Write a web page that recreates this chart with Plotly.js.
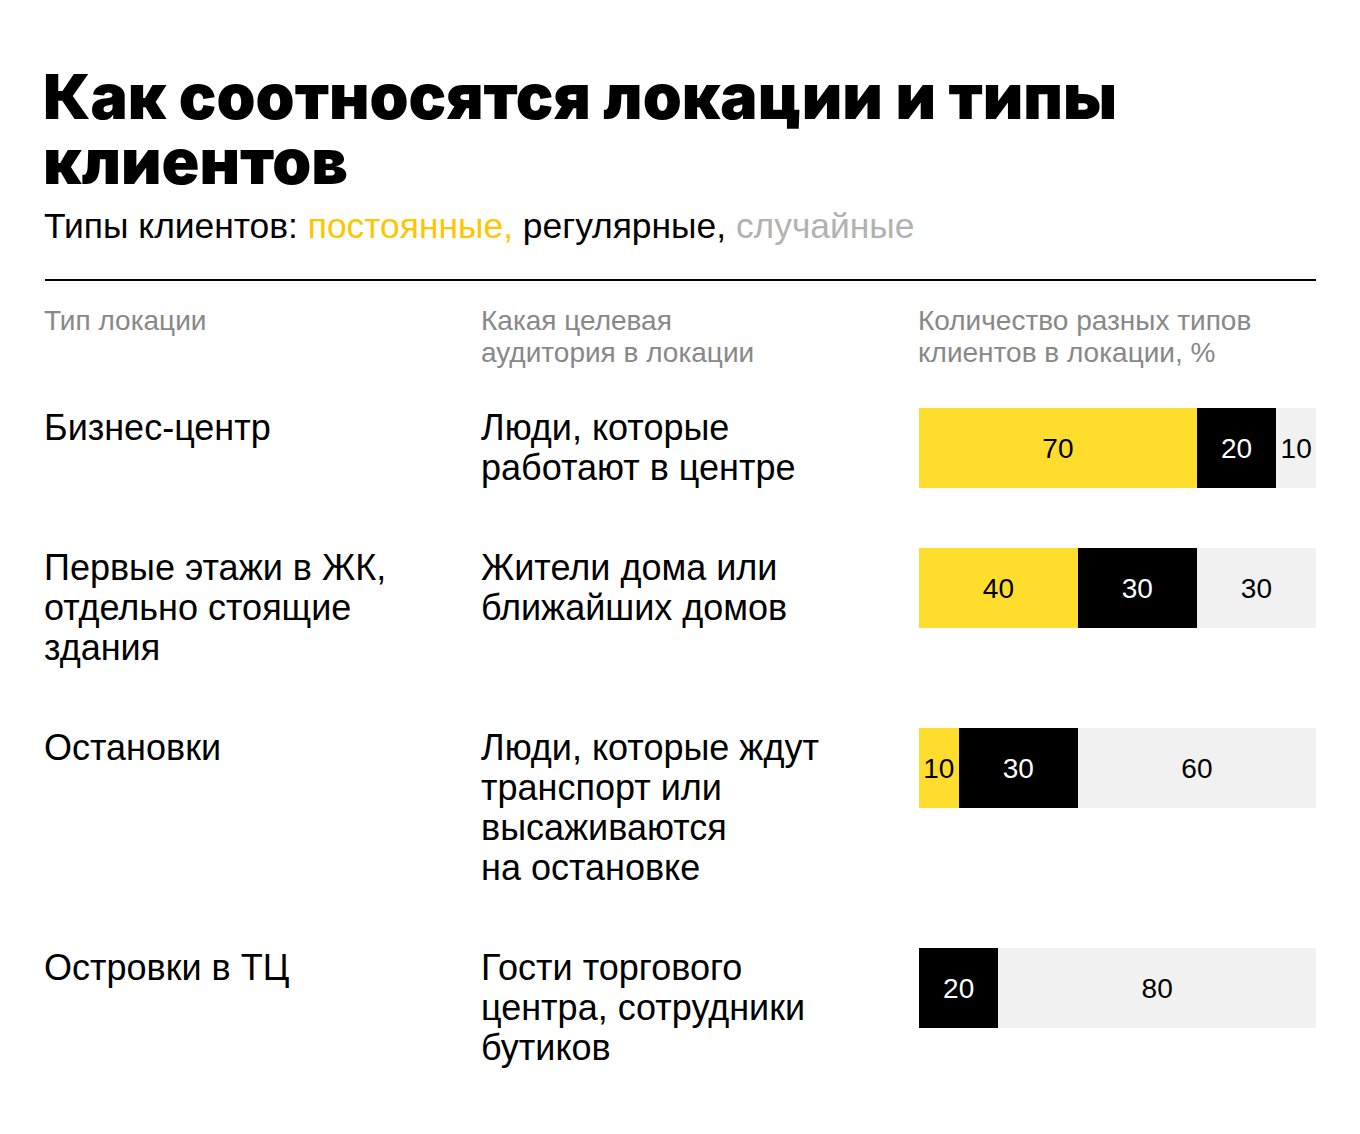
<!DOCTYPE html>
<html>
<head>
<meta charset="utf-8">
<script src="https://cdn.plot.ly/plotly-3.0.1.min.js"></script>
<style>html,body{margin:0;padding:0;background:#fff;}#chart{width:1360px;height:1134px;}</style>
</head>
<body>
<div id="chart"></div>
<script>
// ---- data ----
const titleLines = ["Как соотносятся локации и типы", "клиентов"];
const subtitleLead = "Типы клиентов: ";
const seriesNames = ["постоянные", "регулярные", "случайные"];
const headers = ["Тип локации", "Какая целевая<br>аудитория в локации", "Количество разных типов<br>клиентов в локации, %"];
const locations = [
  ["Бизнес-центр"],
  ["Первые этажи в ЖК,", "отдельно стоящие", "здания"],
  ["Остановки"],
  ["Островки в ТЦ"]
];
const audiences = [
  ["Люди, которые", "работают в центре"],
  ["Жители дома или", "ближайших домов"],
  ["Люди, которые ждут", "транспорт или", "высаживаются", "на остановке"],
  ["Гости торгового", "центра, сотрудники", "бутиков"]
];
const permanent = [70, 40, 10, 0];
const regular = [20, 30, 30, 20];
const occasional = [10, 30, 60, 80];

// ---- layout helpers ----
const W = 1360, H = 1134;
const px = x => x / W;
const py = y => 1 - y / H;
const FONT = "Liberation Sans, Arial, sans-serif";
const NUMFONT = "Liberation Sans, Arial, sans-serif";
const TITLEFONT = "Inter, Liberation Sans, Arial, sans-serif";
const seriesColors = ["#FFDD2D", "#000000", "#F1F1F1"];
const textColors = ["#000000", "#FFFFFF", "#000000"];
const subtitleColors = ["#FFC600", "#000000", "#B2B2B2"];
const rowTops = [408, 548, 728, 948];
const barH = 80;
const barX0 = 919, barX1 = 1316;

const seriesValues = [permanent, regular, occasional];
const traces = [];
const layout = {
  width: W, height: H,
  margin: {l: 0, r: 0, t: 0, b: 0},
  paper_bgcolor: "#ffffff", plot_bgcolor: "rgba(0,0,0,0)",
  barmode: "stack", showlegend: false, hovermode: false,
  font: {family: FONT, color: "#000"},
  annotations: [], shapes: []
};

locations.forEach((loc, r) => {
  const sfx = r === 0 ? "" : String(r + 1);
  const yname = "yaxis" + sfx, xname = "xaxis" + sfx;
  layout[xname] = {domain: [px(barX0), px(barX1)], range: [0, 100], visible: false, fixedrange: true, anchor: "y" + sfx};
  layout[yname] = {domain: [py(rowTops[r] + barH), py(rowTops[r])], range: [-0.5, 0.5], type: "category", visible: false, fixedrange: true, anchor: "x" + sfx};
  seriesValues.forEach((vals, s) => {
    traces.push({
      type: "bar", orientation: "h",
      x: [vals[r]], y: [loc[0]],
      xaxis: "x" + sfx, yaxis: "y" + sfx,
      width: 1,
      name: seriesNames[s],
      marker: {color: seriesColors[s], line: {width: 0}},
      text: [vals[r] > 0 ? String(vals[r]) : ""],
      textposition: "inside", insidetextanchor: "middle",
      constraintext: "none", textangle: 0,
      textfont: {family: NUMFONT, size: 28, color: textColors[s]},
      cliponaxis: false
    });
  });
});

// title
titleLines.forEach((t, i) => {
  layout.annotations.push({
    xref: "paper", yref: "paper", x: px(41), y: py(96 + 65 * i),
    xanchor: "left", yanchor: "middle", showarrow: false, align: "left",
    text: t, font: {family: TITLEFONT, size: 62.5, weight: 900, color: "#000"}
  });
});
// subtitle
const subText = subtitleLead + seriesNames.map((n, i) =>
  `<span style="color:${subtitleColors[i]}">${n}${i < seriesNames.length - 1 ? "," : ""}</span>`).join(" ");
layout.annotations.push({
  xref: "paper", yref: "paper", x: px(42), y: py(226),
  xanchor: "left", yanchor: "middle", showarrow: false, align: "left",
  text: subText, font: {family: FONT, size: 35.4, color: "#000"}
});
// rule
layout.shapes.push({type: "line", xref: "paper", yref: "paper", x0: px(45), x1: px(1316), y0: py(280), y1: py(280), line: {color: "#000", width: 2}});
// headers
const headerX = [45, 482, 919];
headers.forEach((h, i) => {
  h.split("<br>").forEach((line, j) => {
    layout.annotations.push({
      xref: "paper", yref: "paper", x: px(headerX[i] - 3), y: py(320 + 32 * j),
      xanchor: "left", yanchor: "middle", showarrow: false, align: "left",
      text: line, font: {family: FONT, size: 28, color: "#888888"}
    });
  });
});
// row texts
[locations, audiences].forEach((col, c) => {
  col.forEach((lines, r) => {
    lines.forEach((line, j) => {
      layout.annotations.push({
        xref: "paper", yref: "paper", x: px(headerX[c] - 3), y: py(rowTops[r] + 19 + 40 * j),
        xanchor: "left", yanchor: "middle", showarrow: false, align: "left",
        text: line, font: {family: FONT, size: 36, color: "#000"}
      });
    });
  });
});

Plotly.newPlot("chart", traces, layout, {displayModeBar: false, staticPlot: true});
</script>
</body>
</html>
